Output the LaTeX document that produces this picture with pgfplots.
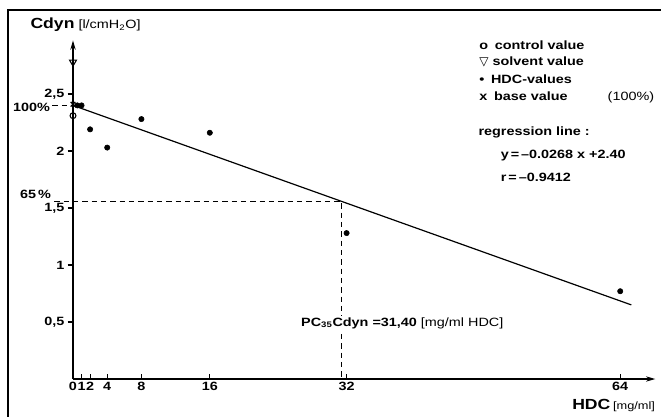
\documentclass[border=0pt]{standalone}
\usepackage{fontspec}
\setmainfont{Liberation Sans}[FakeStretch=1.2]
\newfontfamily\dejavu{DejaVu Sans}
\usepackage{pgfplots}
\pgfplotsset{compat=1.18}
\usetikzlibrary{arrows.meta}

\begin{document}
\begin{tikzpicture}
\begin{axis}[
    x=6.4125pt, y=85.5pt,
    xmin=0, xmax=68.1, ymin=0, ymax=2.97,
    axis lines=left,
    axis line style={line width=0.9pt, -{Stealth[length=7pt,width=4pt]}},
    clip=false,
    xtick={0,1,2,4,8,16,32,64},
    xticklabels={0,1,2,4,8,16,32,64},
    ytick={0.5,1,1.5,2,2.5},
    yticklabels={{0,5},1,{1,5},2,{2,5}},
    xtick align=inside, ytick align=outside,
    major tick length=4pt,
    tick style={black, line width=0.8pt},
    tick label style={font=\bfseries\fontsize{9}{10}\selectfont},
    xticklabel style={yshift=1pt, inner xsep=0.5pt},
    yticklabel style={xshift=1pt},
    /pgf/number format/assume math mode=true,
]
% regression line
\addplot[black, line width=0.9pt] coordinates {(0,2.40)(65.3,0.65)};
% HDC values
\addplot[only marks, mark=*, mark size=2pt, black] coordinates {
    (0.5,2.40)(1,2.40)(2,2.19)(4,2.03)(8,2.28)(16,2.16)(32,1.28)(64,0.77)
};
% base value
\addplot[only marks, mark=x, mark size=2.5pt, line width=1pt, black] coordinates {(0,2.41)};
% control value
\addplot[only marks, mark=o, mark size=2.2pt, line width=0.8pt, black] coordinates {(0,2.31)};
% solvent value
\addplot[only marks, mark=triangle, mark size=3pt, line width=0.8pt, black, mark options={rotate=180}] coordinates {(0,2.78)};

% dashed guides
\draw[line width=0.8pt, dash pattern=on 4pt off 3pt] (-2.4,2.40) -- (0,2.40);
\draw[line width=0.8pt, dash pattern=on 4pt off 3pt] (-2.2,1.56) -- (31.4,1.56) -- (31.4,0);

% texts
\node[anchor=east, font=\bfseries\fontsize{9}{10}\selectfont, inner sep=1pt] at (-2.5,2.38) {100\%};
\node[anchor=east, font=\bfseries\fontsize{9}{10}\selectfont, inner sep=1pt] at (-2.4,1.62) {65\,\%};
\node[anchor=west, inner sep=0pt, font=\bfseries\fontsize{11}{12}\selectfont] at (-5.0,3.105)
    {Cdyn\hspace{3pt}\mdseries\fontsize{9}{10}\selectfont[l/cmH\textsubscript{2}O]};
\node[anchor=east, inner sep=0pt, font=\bfseries\fontsize{11}{12}\selectfont] at (68.1,-0.23)
    {HDC\hspace{2pt}\mdseries\fontsize{8}{10}\selectfont[mg/ml]};

\node[anchor=west, inner sep=0pt, font=\bfseries\fontsize{9}{10}\selectfont] at (47.5,2.93) {o\hspace{5pt}control value};
\node[anchor=west, inner sep=0pt, font=\bfseries\fontsize{9}{10}\selectfont] at (47.5,2.78) {{\dejavu\mdseries ▽}\hspace{3pt}solvent value};
\node[anchor=west, inner sep=0pt, font=\bfseries\fontsize{9}{10}\selectfont] at (47.5,2.63) {•\hspace{5pt}HDC-values};
\node[anchor=west, inner sep=0pt, font=\bfseries\fontsize{9}{10}\selectfont] at (47.5,2.47) {x\hspace{5pt}base value\hspace{30pt}{\mdseries(100\%)}};

\node[anchor=west, inner sep=0pt, font=\bfseries\fontsize{9}{10}\selectfont] at (47.4,2.16) {regression line :};
\node[anchor=west, inner sep=0pt, font=\bfseries\fontsize{9}{10}\selectfont] at (50.0,1.96) {y\,=\,--0.0268 x +2.40};
\node[anchor=west, inner sep=0pt, font=\bfseries\fontsize{9}{10}\selectfont] at (50.0,1.77) {r\,=\,--0.9412};

\node[anchor=west, fill=white, inner sep=1pt, font=\bfseries\fontsize{9}{10}\selectfont] at (26.5,0.49)
    {PC\textsubscript{35}Cdyn =31,40 \mdseries[mg/ml HDC]};

% frame of the scanned figure
\draw[line width=1pt] (-7.6,-0.33) -- (-7.6,3.237) -- (68.8,3.237);

\coordinate (bl) at (-8.538,-0.3246);
\coordinate (tr) at (68.77,3.3246);
\end{axis}
\pgfresetboundingbox
\useasboundingbox (bl) rectangle (tr);
\end{tikzpicture}
\end{document}
